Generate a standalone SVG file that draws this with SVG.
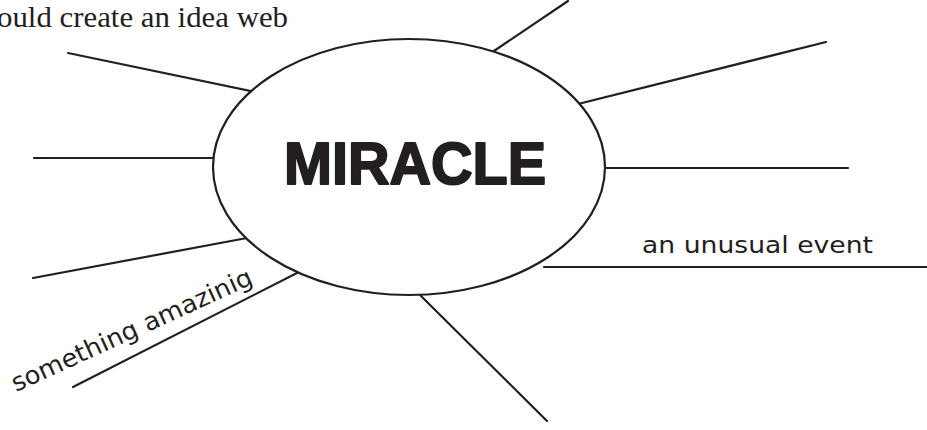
<svg xmlns="http://www.w3.org/2000/svg" width="927" height="430" viewBox="0 0 927 430">
<style>
.ln{stroke:#231f20;stroke-width:2.2;fill:none;stroke-linecap:round}
.hand{font-family:"DejaVu Sans","Liberation Sans",sans-serif;fill:#231f20}
</style>
<rect width="927" height="430" fill="#fff"/>
<text x="-3" y="27" font-family="Liberation Serif, serif" font-size="29" textLength="291" lengthAdjust="spacingAndGlyphs" fill="#231f20">ould create an idea web</text>
<g id="connectors">
<line class="ln" x1="491" y1="53" x2="568" y2="1"/>
<line class="ln" x1="546" y1="112" x2="826" y2="42"/>
<line class="ln" x1="603" y1="168" x2="848" y2="168"/>
<line class="ln" x1="544" y1="267" x2="927" y2="267"/>
<line class="ln" x1="420" y1="295" x2="547" y2="421"/>
<line class="ln" x1="297" y1="273" x2="73" y2="387"/>
<line class="ln" x1="247" y1="238" x2="33" y2="278"/>
<line class="ln" x1="213" y1="158" x2="34" y2="158"/>
<line class="ln" x1="260" y1="93" x2="68" y2="53"/>
</g>
<g id="center">
<ellipse cx="409" cy="167" rx="196" ry="128" fill="#fff" stroke="#231f20" stroke-width="2.2"/>
<text x="415" y="184" text-anchor="middle" font-family="Liberation Sans, sans-serif" font-weight="bold" font-size="60" textLength="262" lengthAdjust="spacingAndGlyphs" fill="#231f20" stroke="#231f20" stroke-width="2" stroke-linejoin="round">MIRACLE</text>
</g>
<g id="label-event">
<text class="hand" x="642" y="253" font-size="23" textLength="231" lengthAdjust="spacingAndGlyphs">an unusual event</text>
</g>
<g id="label-amazing">
<text class="hand" x="16" y="392" font-size="25" textLength="262" lengthAdjust="spacingAndGlyphs" transform="rotate(-24.5 16 392)">something amazinig</text>
</g>
</svg>
